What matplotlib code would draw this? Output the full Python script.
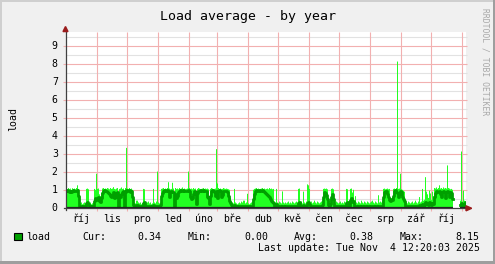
import numpy as np
import matplotlib
matplotlib.use("Agg")
import matplotlib.pyplot as plt
from matplotlib.patches import Rectangle, Polygon

# daily load, 1 value per day starting 1 Oct 2024 (one pixel = one day)
load_max = [
    1.12,1.08,1.15,1.10,1.12,1.05,1.14,1.10,1.12,1.08,1.15,1.30,1.10,0.40,0.30,0.35,0.25,0.30,0.35,0.30,
    1.10,1.12,1.08,0.30,0.35,0.25,0.30,0.35,1.10,1.05,1.94,1.10,1.12,0.80,0.70,0.90,1.12,1.15,1.10,1.12,
    1.10,1.15,1.12,1.08,1.15,1.10,1.12,1.20,1.10,1.08,1.12,1.15,0.05,1.10,1.12,1.18,1.10,1.12,0.05,1.15,
    3.37,1.12,1.10,1.15,1.08,1.12,1.05,0.40,0.35,0.30,0.45,0.45,0.35,0.30,0.35,0.25,0.30,1.10,1.08,0.35,
    0.30,0.35,0.40,0.30,0.35,0.25,0.30,1.10,0.35,0.30,0.40,2.06,0.35,0.30,0.35,1.10,1.12,1.15,1.08,1.12,
    1.10,1.15,1.47,1.12,1.08,1.10,1.44,1.12,0.10,1.15,1.10,1.12,1.08,1.15,1.10,1.12,1.18,1.10,1.12,1.08,
    1.10,1.12,2.06,1.15,1.10,1.12,1.08,1.15,1.10,1.12,0.30,1.10,1.15,1.12,1.08,1.10,1.12,1.15,1.10,1.12,
    1.10,1.12,1.08,0.30,1.10,1.15,1.12,1.08,1.10,1.12,3.30,1.40,1.15,1.10,1.12,1.08,1.10,1.15,1.12,1.10,
    1.12,1.10,1.08,1.05,0.60,0.40,0.35,0.30,1.10,0.35,0.30,0.25,0.30,0.35,0.30,0.40,0.35,0.45,0.45,0.30,
    0.35,0.83,0.30,0.25,0.30,0.35,0.40,1.05,1.10,1.12,1.15,1.10,1.12,1.08,1.10,1.12,1.15,1.10,1.12,1.08,
    1.10,1.12,1.08,1.15,1.10,1.12,1.08,1.10,0.40,0.35,1.10,0.35,0.30,0.40,0.35,0.30,0.96,0.35,0.30,0.35,
    0.30,0.35,0.40,0.30,0.35,0.30,0.40,0.35,0.30,0.35,0.40,0.35,1.10,1.12,0.35,0.40,0.30,0.95,0.35,0.30,
    0.40,1.35,1.30,1.10,0.35,0.40,0.30,0.35,0.45,0.35,0.30,0.40,0.35,0.30,0.35,0.40,0.45,1.10,1.12,1.10,
    1.12,1.08,0.50,0.45,0.55,1.10,1.12,1.08,0.35,0.30,0.40,0.35,0.30,0.35,0.40,0.30,0.35,0.30,0.40,0.35,
    1.10,1.08,0.40,0.45,1.10,1.12,0.90,1.05,0.40,0.70,0.35,0.30,0.40,0.35,0.30,0.45,0.35,0.30,0.40,0.35,
    0.30,0.40,0.35,0.30,0.35,0.40,0.45,0.35,0.30,0.40,0.35,0.30,0.75,0.35,0.40,0.35,0.45,1.10,1.12,1.08,
    1.10,1.12,1.08,1.10,0.60,0.55,0.65,1.10,1.12,1.08,1.15,8.15,1.10,1.12,1.94,1.08,1.05,1.00,0.95,0.40,
    0.35,0.30,0.40,0.35,0.30,0.35,0.40,0.30,0.35,0.45,0.35,0.30,0.40,0.65,0.35,0.40,1.10,0.45,0.50,1.75,
    0.95,0.80,0.60,1.00,0.85,0.50,0.95,0.70,1.15,1.12,1.18,1.10,1.15,1.30,1.12,1.15,1.10,1.18,1.12,1.15,
    1.12,2.40,1.15,1.12,1.08,1.10,1.05,np.nan,np.nan,np.nan,np.nan,np.nan,np.nan,np.nan,0.45,3.17,0.40,1.00,0.45,0.40,
]
load_avg = [
    0.95,1.00,0.98,0.92,0.95,0.90,0.96,1.00,0.97,0.93,0.98,1.00,0.70,0.15,0.10,0.12,0.08,0.10,0.12,0.10,
    0.30,0.35,0.25,0.10,0.12,0.08,0.10,0.12,0.40,0.55,0.50,0.45,0.60,0.40,0.35,0.55,0.85,0.95,1.00,0.98,
    0.95,0.90,0.85,0.80,0.70,0.60,0.75,0.90,0.55,0.65,0.85,0.90,0.05,0.75,0.60,0.80,0.90,0.95,0.05,0.90,
    1.00,0.98,0.95,1.00,0.92,0.95,0.60,0.20,0.15,0.12,0.18,0.20,0.15,0.10,0.12,0.10,0.10,0.30,0.35,0.12,
    0.10,0.12,0.15,0.10,0.12,0.08,0.10,0.20,0.12,0.10,0.12,0.15,0.12,0.10,0.20,0.70,0.85,0.95,1.00,0.98,
    0.95,1.00,0.98,0.65,0.90,0.95,0.92,0.90,0.10,0.80,0.55,0.70,0.90,0.95,1.00,0.98,0.95,1.00,0.97,0.95,
    0.98,0.95,1.00,0.95,0.60,0.50,0.55,0.80,0.95,0.90,0.25,0.85,0.95,0.98,1.00,0.97,0.95,1.00,0.98,0.95,
    0.95,0.60,0.55,0.25,0.70,0.95,1.00,0.98,0.90,0.70,0.95,0.55,0.98,1.00,0.95,0.60,0.75,0.95,0.98,0.95,
    0.95,0.90,0.70,0.40,0.30,0.20,0.15,0.12,0.20,0.12,0.10,0.08,0.10,0.12,0.10,0.15,0.12,0.15,0.15,0.10,
    0.12,0.15,0.10,0.08,0.10,0.12,0.15,0.50,0.80,0.95,1.00,0.98,0.95,1.00,0.97,0.95,1.00,0.95,0.90,0.85,
    0.80,0.75,0.70,0.60,0.50,0.40,0.35,0.30,0.15,0.12,0.25,0.10,0.08,0.12,0.10,0.08,0.15,0.10,0.08,0.10,
    0.10,0.12,0.15,0.10,0.12,0.10,0.15,0.12,0.10,0.12,0.15,0.12,0.30,0.35,0.12,0.15,0.10,0.20,0.12,0.10,
    0.12,0.30,0.35,0.25,0.12,0.15,0.10,0.12,0.15,0.12,0.10,0.15,0.12,0.10,0.12,0.15,0.20,0.60,0.90,0.85,
    0.75,0.50,0.20,0.15,0.25,0.65,0.80,0.50,0.12,0.10,0.15,0.12,0.10,0.12,0.15,0.10,0.12,0.10,0.15,0.12,
    0.30,0.35,0.15,0.15,0.45,0.55,0.35,0.40,0.12,0.15,0.10,0.08,0.12,0.10,0.08,0.12,0.10,0.08,0.12,0.10,
    0.08,0.12,0.10,0.08,0.10,0.12,0.15,0.10,0.08,0.12,0.10,0.08,0.15,0.10,0.12,0.10,0.15,0.60,0.90,0.95,
    0.95,0.80,0.60,0.45,0.40,0.50,0.45,0.70,0.95,1.00,0.90,0.85,0.60,0.80,0.95,0.90,0.60,0.50,0.40,0.15,
    0.12,0.10,0.15,0.12,0.10,0.12,0.15,0.10,0.12,0.15,0.12,0.10,0.15,0.20,0.12,0.15,0.25,0.15,0.20,0.35,
    0.30,0.25,0.20,0.35,0.30,0.20,0.30,0.25,0.60,0.85,0.95,0.90,0.92,0.95,0.80,0.60,0.90,0.95,0.92,0.55,
    0.90,0.95,0.92,0.60,0.90,0.85,0.50,np.nan,np.nan,np.nan,np.nan,np.nan,np.nan,np.nan,0.20,0.30,0.20,0.25,0.20,0.34,
]

# month starts (days after 1 Oct 2024) and their labels
month_start = [0, 31, 61, 92, 123, 151, 182, 212, 243, 273, 304, 335, 365, 396]
month_names = ["říj", "lis", "pro", "led", "úno", "bře", "dub", "kvě", "čen", "čec", "srp", "zář", "říj"]
yticks = [0, 1, 2, 3, 4, 5, 6, 7, 8, 9]

legend_stats = [("Cur:", "0.34"), ("Min:", "0.00"), ("Avg:", "0.38"), ("Max:", "8.15")]
last_update = "Last update: Tue Nov  4 12:20:03 2025"

W, H = 495, 264
x0, y0 = 65.5, 208.3     # pixel of the origin
ppu = 18.07              # pixels per load unit
ytop = 176 / ppu

mono = "DejaVu Sans Mono"
fs = 7.15

fig = plt.figure(figsize=(W / 100, H / 100), dpi=100, facecolor="#f0f0f0")
ax = fig.add_axes([x0 / W, (H - y0) / H, 400 / W, 176 / H])
ax.set_facecolor("white")
ax.set_xlim(0, 400)
ax.set_ylim(0, ytop)
for s in ax.spines.values():
    s.set_visible(False)
ax.set_xticks([])
ax.set_yticks([])

# grid
for v in np.arange(0.5, ytop, 1.0):
    ax.hlines(v, 0, 401, color="#e2e2e2", lw=0.8, zorder=1, clip_on=False)
for v in yticks[1:]:
    ax.hlines(v, -2.5, 401, color="#f2b0b0", lw=0.8, zorder=1, clip_on=False)
for d in month_start[1:]:
    ax.vlines(d + 0.5, -3 / ppu, ytop, color="#f2b0b0", lw=0.8, zorder=1, clip_on=False)

# data: max as light area, average as dark line, min (zero) as black line
mx = np.array(load_max)
av = np.array(load_avg)
edges = np.arange(len(mx) + 1)
ax.fill_between(edges, 0, np.append(np.nan_to_num(mx), 0), step="post", color="#22ff22", lw=0, zorder=2)
ax.plot(edges, np.append(av, av[-1]), drawstyle="steps-post", color="#00a000", lw=2.0, zorder=3)
zero = np.where(np.isnan(mx), np.nan, 0.0)
ax.plot(edges, np.append(zero, 0), drawstyle="steps-post",
        color="#202020", lw=1.6, zorder=4, solid_capstyle="butt")

# axes with arrows
ax.plot([0, 0], [-2 / ppu, 9.8], color="#404040", lw=0.9, zorder=5, clip_on=False)
ax.plot([-2, 401], [0, 0], color="#404040", lw=0.9, zorder=5, clip_on=False)
ax.add_patch(Polygon([[-2.5, 9.78], [2.5, 9.78], [0, 10.06]], closed=True, color="#9a1c1c", zorder=6, clip_on=False))
ax.add_patch(Polygon([[400.5, -0.14], [400.5, 0.14], [406.2, 0]], closed=True, color="#9a1c1c", zorder=6, clip_on=False))

def fx(px):
    return px / W

def fy(py):
    return 1 - py / H

# y tick labels
for v in yticks:
    fig.text(fx(57.8), fy(y0 - v * ppu), str(v), ha="right", va="center", fontsize=fs, family=mono)

# month labels
for i, name in enumerate(month_names):
    fig.text(fx(x0 + month_start[i] + 15.5), fy(219), name, ha="center", va="center", fontsize=fs, family=mono)

fig.text(fx(247.5), fy(16.5), "Load average - by year", ha="center", va="center", fontsize=9.5, family=mono)
fig.text(fx(13.5), fy(119), "load", rotation=90, ha="center", va="center", fontsize=fs, family=mono)
fig.text(fx(485), fy(62), "RRDTOOL / TOBI OETIKER", rotation=270, ha="center", va="center",
         fontsize=5.8, family=mono, color="#a8a8a8")

# legend
fig.add_artist(Rectangle((fx(14), fy(240.3)), 7.5 / W, 7.5 / H, transform=fig.transFigure,
                         facecolor="#00a000", edgecolor="black", lw=0.8))
fig.text(fx(26.5), fy(236.5), "load", ha="left", va="center", fontsize=fs, family=mono)
lab_x = [82, 188, 294, 400]
val_x = [161, 268, 373, 479]
for (lab, val), lx, vx in zip(legend_stats, lab_x, val_x):
    fig.text(fx(lx), fy(236.5), lab, ha="left", va="center", fontsize=fs, family=mono)
    fig.text(fx(vx), fy(236.5), val, ha="right", va="center", fontsize=fs, family=mono)
fig.text(fx(480), fy(248), last_update, ha="right", va="center", fontsize=fs, family=mono)

# 3d frame
fig.add_artist(Rectangle((0, 1 - 2 / H), 1, 2 / H, transform=fig.transFigure, color="#cfcfcf", lw=0))
fig.add_artist(Rectangle((0, 0), 2 / W, 1, transform=fig.transFigure, color="#cfcfcf", lw=0))
fig.add_artist(Rectangle((0, 0), 1, 3 / H, transform=fig.transFigure, color="#9e9e9e", lw=0))
fig.add_artist(Rectangle((1 - 2 / W, 0), 2 / W, 1, transform=fig.transFigure, color="#9e9e9e", lw=0))

fig.savefig("out.png", dpi=100, facecolor=fig.get_facecolor())
